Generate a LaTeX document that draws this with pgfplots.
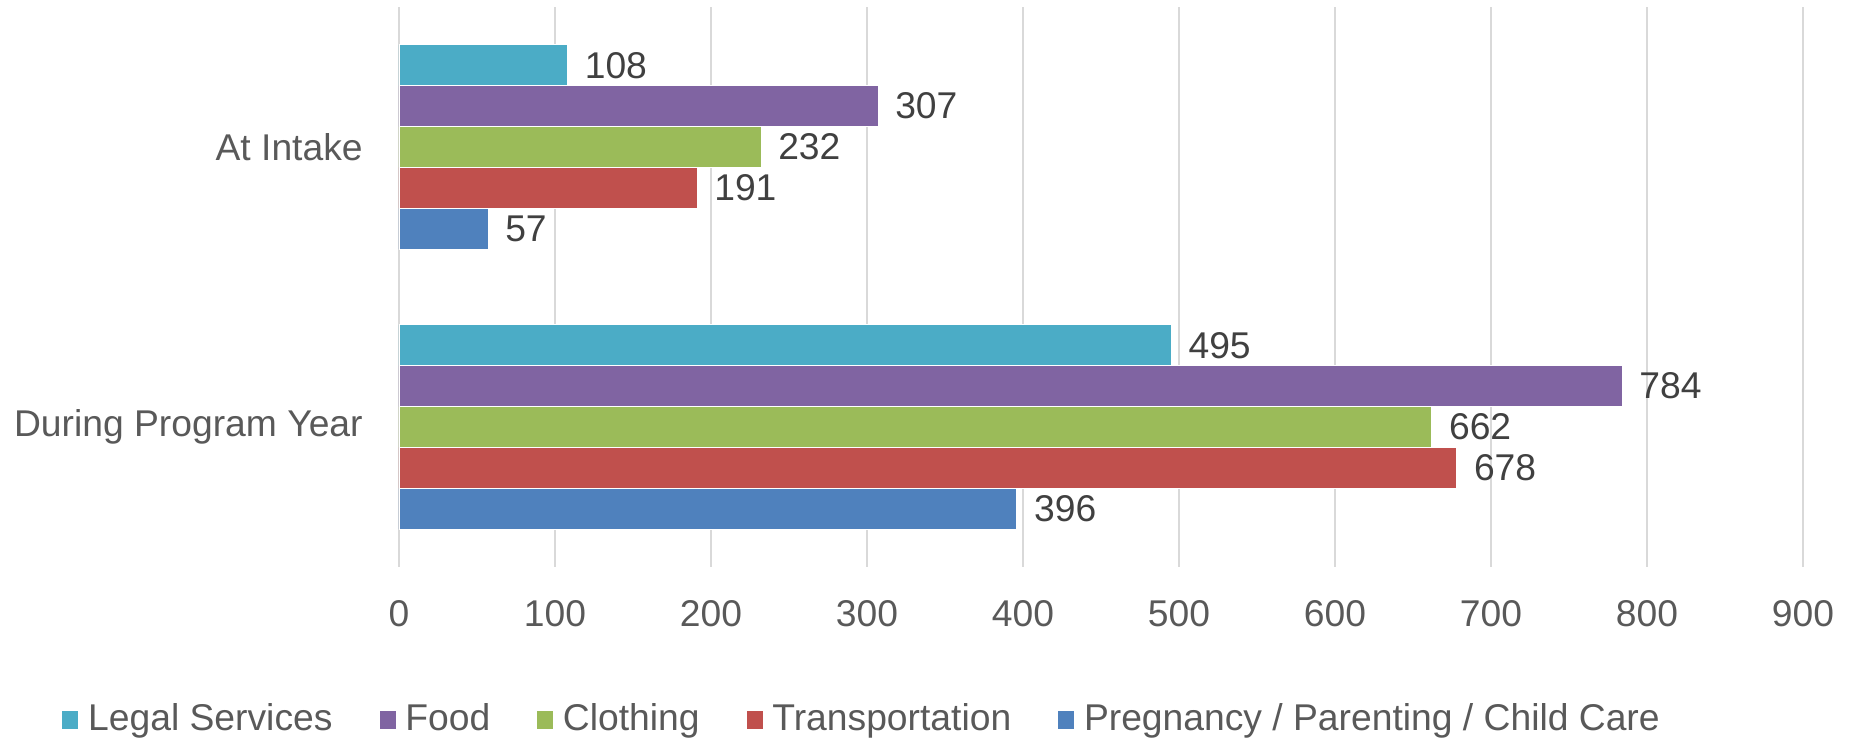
\documentclass[border=0pt]{standalone}
\usepackage{fontspec}
\setmainfont{Liberation Sans}
\usepackage{pgfplots}
\pgfplotsset{compat=1.18}

\definecolor{clegal}{HTML}{4BACC6}
\definecolor{cfood}{HTML}{8064A2}
\definecolor{ccloth}{HTML}{9BBB59}
\definecolor{ctrans}{HTML}{C0504D}
\definecolor{cpreg}{HTML}{4F81BD}
\definecolor{gridgray}{HTML}{D9D9D9}
\definecolor{ticktext}{HTML}{595959}
\definecolor{valtext}{HTML}{404040}

\newcommand{\chartfont}{\fontsize{10.6}{12.7}\selectfont}

\begin{document}
\begin{tikzpicture}
\useasboundingbox (-39.9mm,-17.6mm) rectangle (145.7mm,56.7mm);
\begin{axis}[
    scale only axis,
    width=140.4mm, height=56mm,
    xbar, bar width=0.146,
    xmin=0, xmax=900,
    ymin=-0.5, ymax=1.5,
    xtick={0,100,...,900},
    ytick={0,1},
    yticklabels={During Program Year, At Intake},
    /pgf/number format/assume math mode=true,
    xmajorgrids=true,
    grid style={gridgray, line width=0.6pt},
    axis line style={draw=none},
    major tick length=0pt,
    tick style={draw=none},
    tick label style={font=\chartfont, text=ticktext},
    xticklabel style={yshift=-6pt},
    yticklabel style={xshift=-6.8pt},
    nodes near coords,
    every node near coord/.append style={font=\chartfont, text=valtext, xshift=1.5pt},
    legend columns=-1,
    legend style={
        at={(-0.2404,-0.273)}, anchor=west,
        draw=none, inner sep=0pt, outer sep=0pt,
        font=\chartfont, text=ticktext,
        /tikz/every even column/.append style={column sep=3.9mm},
        /tikz/every odd column/.append style={column sep=0.2mm},
    },
    legend image code/.code={\fill[#1] (0mm,-0.95mm) rectangle (1.7mm,0.95mm);},
]
\addplot[fill=clegal, draw=white, line width=0.2pt, bar shift=0.292]
    coordinates {(108,1) (495,0)};
\addplot[fill=cfood, draw=white, line width=0.2pt, bar shift=0.146]
    coordinates {(307,1) (784,0)};
\addplot[fill=ccloth, draw=white, line width=0.2pt, bar shift=0]
    coordinates {(232,1) (662,0)};
\addplot[fill=ctrans, draw=white, line width=0.2pt, bar shift=-0.146]
    coordinates {(191,1) (678,0)};
\addplot[fill=cpreg, draw=white, line width=0.2pt, bar shift=-0.292]
    coordinates {(57,1) (396,0)};
\legend{Legal Services, Food, Clothing, Transportation, Pregnancy / Parenting / Child Care}
\end{axis}
\end{tikzpicture}
\end{document}
